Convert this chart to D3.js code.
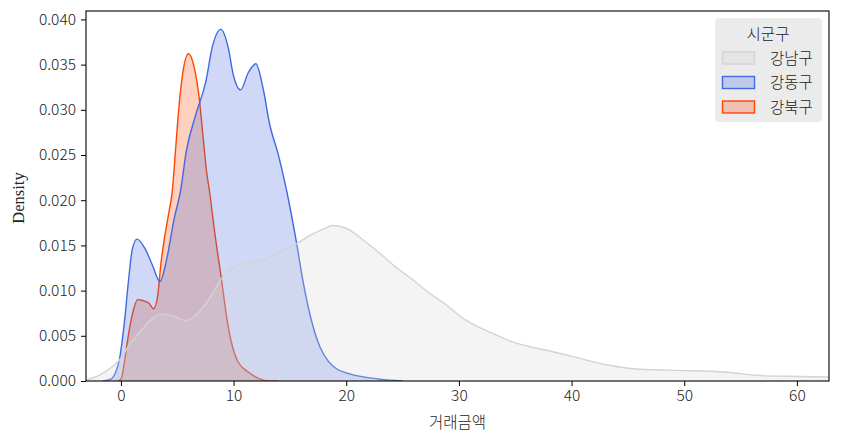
<!DOCTYPE html>
<html><head><meta charset="utf-8">
<script src="https://cdn.jsdelivr.net/npm/d3@7"></script>
<style>body{margin:0;background:#fff}svg{display:block}</style>
</head><body>
<svg id="c" width="842" height="442"></svg>
<script>
// ---- data ----
const categories = ["강남구", "강동구", "강북구"];
const colors = ["#d3d3d3", "#4169e1", "#ff4500"];
const xTicks = [0, 10, 20, 30, 40, 50, 60];
const yTicks = [0, 0.005, 0.01, 0.015, 0.02, 0.025, 0.03, 0.035, 0.04];
const gangnamX = [-3.2,-1.9,-0.74,-0.15,0.74,1.62,2.81,3.55,4.58,5.77,6.65,7.84,8.9,9.97,11.45,12.93,14.4,15.6,16.9,17.95,18.8,20.0,21.5,23.0,24.5,25.9,27.4,28.9,30.4,31.85,33.3,34.8,36.3,37.8,40.1,43.1,46.05,50.5,54.3,56.4,59.4,62.6,64];
const gangnamY = [0.0001,0.00066,0.0016,0.0023,0.004,0.0053,0.0069,0.0074,0.0072,0.0067,0.0073,0.0091,0.0113,0.0126,0.0131,0.0135,0.0145,0.0152,0.0162,0.0168,0.0172,0.0169,0.0156,0.0141,0.0125,0.0112,0.0097,0.0084,0.0069,0.0059,0.0051,0.0043,0.0038,0.0034,0.0027,0.0018,0.0013,0.00114,0.00092,0.00063,0.00052,0.00044,0.0004];
const gangdongX = [-1.6,-0.9,-0.15,0.3,0.68,1.0,1.42,2.2,2.8,3.46,4.1,4.7,5.3,5.8,6.65,7.55,8.1,8.87,9.52,9.97,10.62,11.3,11.98,12.63,13.2,13.96,14.7,15.6,16.2,16.9,17.66,18.4,19.2,20.0,21.8,23,25];
const gangdongY = [0,0.0002,0.0023,0.0064,0.0112,0.0145,0.0157,0.0145,0.0128,0.011,0.0137,0.0178,0.0211,0.0254,0.0295,0.0332,0.0369,0.0389,0.0369,0.0339,0.0322,0.0341,0.0351,0.0323,0.0284,0.0251,0.0211,0.0152,0.0108,0.00675,0.0038,0.0022,0.0013,0.0009,0.0004,0.0002,0];
const gangbukX = [-0.3,0,0.3,0.59,1.04,1.48,1.92,2.5,2.9,3.25,3.55,3.93,4.29,4.55,4.82,5.12,5.47,6.0,6.5,6.95,7.3,7.6,7.85,8.34,8.93,9.38,9.82,10.4,11.3,12.2,13.2,14];
const gangbukY = [0,0.0002,0.002,0.0045,0.0075,0.009,0.0089,0.0086,0.008,0.0093,0.013,0.0163,0.0189,0.0209,0.0251,0.0299,0.0339,0.0362,0.0347,0.0313,0.0269,0.0232,0.0211,0.0163,0.0112,0.0071,0.0042,0.0021,0.001,0.0003,0,0];
const seriesX = [gangnamX, gangdongX, gangbukX];
const seriesY = [gangnamY, gangdongY, gangbukY];

// ---- layout ----
const L = 86, R = 829, T = 11, B = 381;
const svg = d3.select("#c");
const x = d3.scaleLinear().domain([-3.1, 62.85]).range([L, R]);
const y = d3.scaleLinear().domain([0, 0.04093]).range([B, T]);
const font = "'Noto Sans CJK KR', 'Noto Sans', sans-serif";

svg.append("defs").append("clipPath").attr("id", "clip")
  .append("rect").attr("x", L).attr("y", T).attr("width", R - L).attr("height", B - T);

const area = d3.area().x(d => x(d[0])).y0(y(0)).y1(d => y(d[1])).curve(d3.curveMonotoneX);
const line = d3.line().x(d => x(d[0])).y(d => y(d[1])).curve(d3.curveMonotoneX);

const g = svg.append("g").attr("clip-path", "url(#clip)");
// seaborn draws hue levels in reverse order
[2, 1, 0].forEach(i => {
  const pts = seriesX[i].map((v, j) => [v, seriesY[i][j]]);
  g.append("path").attr("d", area(pts)).attr("fill", colors[i]).attr("fill-opacity", 0.25);
  g.append("path").attr("d", line(pts)).attr("fill", "none").attr("stroke", colors[i]).attr("stroke-width", 1.4);
});

// axes
const xAxis = svg.append("g").attr("transform", `translate(0,${B})`)
  .call(d3.axisBottom(x).tickValues(xTicks).tickFormat(d3.format("d")).tickSize(5).tickPadding(4));
const yAxis = svg.append("g").attr("transform", `translate(${L},0)`)
  .call(d3.axisLeft(y).tickValues(yTicks).tickFormat(d3.format(".3f")).tickSize(5).tickPadding(5));
[xAxis, yAxis].forEach(a => {
  a.select(".domain").remove();
  a.selectAll("text").attr("font-family", font).attr("font-size", 15.5).attr("fill", "#222")
    .attr("font-weight", 300);
  a.selectAll("line").attr("stroke", "#000");
});
svg.append("rect").attr("x", L).attr("y", T).attr("width", R - L).attr("height", B - T)
  .attr("fill", "none").attr("stroke", "#000").attr("stroke-width", 1.1);

svg.append("text").attr("x", (L + R) / 2).attr("y", 428).attr("text-anchor", "middle")
  .attr("font-family", font).attr("font-size", 15.5).attr("font-weight", 300).attr("fill", "#222").text("거래금액");
svg.append("text").attr("transform", "translate(24,198) rotate(-90)").attr("text-anchor", "middle")
  .attr("font-family", "'Liberation Serif', 'DejaVu Serif', serif").attr("font-size", 16.5).attr("fill", "#222").text("Density");

// legend
const lg = svg.append("g");
lg.append("rect").attr("x", 715).attr("y", 18).attr("width", 107).attr("height", 104).attr("rx", 4)
  .attr("fill", "#ebebeb");
lg.append("text").attr("x", 768).attr("y", 40).attr("text-anchor", "middle")
  .attr("font-family", font).attr("font-size", 15.5).attr("font-weight", 300).attr("fill", "#222").text("시군구");
categories.forEach((c, i) => {
  const yy = 58 + i * 24.5;
  lg.append("rect").attr("x", 722.5).attr("y", yy - 6).attr("width", 32).attr("height", 12)
    .attr("fill", colors[i]).attr("fill-opacity", 0.25).attr("stroke", colors[i]).attr("stroke-width", 1.4);
  lg.append("text").attr("x", 770).attr("y", yy + 5.5).attr("font-family", font).attr("font-size", 15.5)
    .attr("font-weight", 300).attr("fill", "#222").text(c);
});
</script>
</body></html>
